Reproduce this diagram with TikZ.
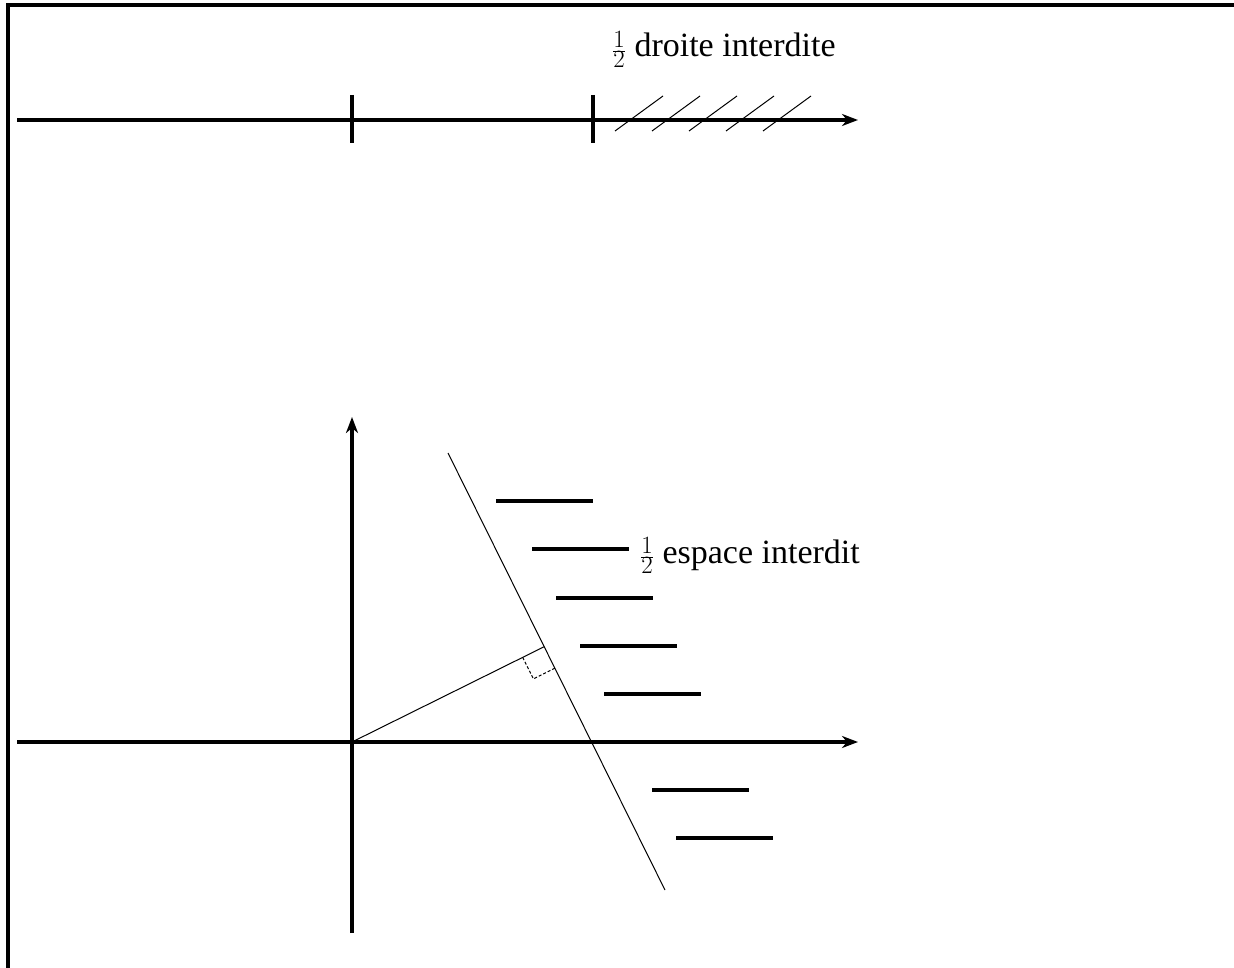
\documentclass[tikz,border=0pt]{standalone}
\usepackage{fontspec}
\setmainfont{Liberation Serif}
\usetikzlibrary{arrows.meta}
\begin{document}
\begin{tikzpicture}[x=1pt,y=-1pt,
  axis/.style={line width=3.2pt,-{Stealth[length=16pt,width=12pt,inset=5pt]}},
  thickln/.style={line width=3.2pt},
  thinln/.style={line width=1pt},
  lbl/.style={font=\fontsize{34}{40}\selectfont,inner sep=0pt,anchor=base west}]
\useasboundingbox (0,0) rectangle (1234,968);
% frame
\draw[line width=3.2pt] (8,968) -- (8,5) -- (1234,5);
% top line
\coordinate (l1) at (17,120);
\coordinate (r1) at (858,120);
\draw[axis] (l1) -- (r1);
\coordinate (t1a) at (352,95); \coordinate (t1b) at (352,143);
\coordinate (t2a) at (593,95); \coordinate (t2b) at (593,143);
\draw[thickln] (t1a) -- (t1b);
\draw[thickln] (t2a) -- (t2b);
\foreach \i in {0,...,4}{
  \draw[thinln] (615+37*\i,131) -- (663+37*\i,96);
}
\node[lbl] (lab1) at (612,57) {$\frac{1}{2}$ droite interdite};
% bottom axes
\coordinate (O) at (352,742);
\coordinate (xl) at (17,742);
\coordinate (xr) at (858,742);
\coordinate (yb) at (352,933);
\coordinate (yt) at (352,417);
\draw[axis] (xl) -- (xr);
\draw[axis] (yb) -- (yt);
% slanted line
\coordinate (P) at (448,453);
\coordinate (Q) at (665,890);
\draw[thinln] (P) -- (Q);
\coordinate (F) at (544.2,646.7);
\draw[thinln] (O) -- (F);
\coordinate (m1) at (522.7,657.4);
\coordinate (m2) at (533.4,678.9);
\coordinate (m3) at (554.9,668.2);
\draw[thinln,dash pattern=on 3pt off 2pt] (m1) -- (m2) -- (m3);
% hatching strokes
\foreach \x/\y in {496/501,532/549,556/598,580/646,604/694,652/790,676/838}{
  \draw[thickln] (\x,\y) -- (\x+97,\y);
}
\node[lbl] (lab2) at (640,563) {$\frac{1}{2}$ espace interdit};
\end{tikzpicture}
\end{document}
